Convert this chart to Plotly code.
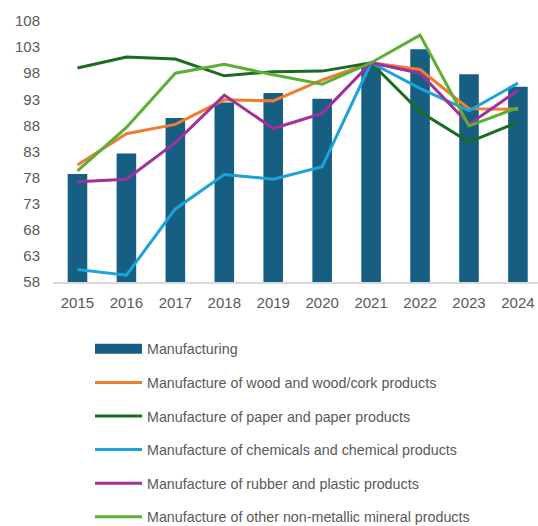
import plotly.graph_objects as go

years = ["2015", "2016", "2017", "2018", "2019", "2020", "2021", "2022", "2023", "2024"]

manufacturing = [78.7, 82.6, 89.4, 92.4, 94.2, 93.1, 100.0, 102.6, 97.8, 95.4]
wood = [80.4, 86.4, 88.2, 92.9, 92.7, 96.7, 100.0, 98.7, 91.2, 91.1]
paper = [99.0, 101.1, 100.7, 97.5, 98.3, 98.4, 100.0, 90.6, 84.8, 88.6]
chemicals = [60.4, 59.3, 72.0, 78.6, 77.7, 80.1, 100.0, 95.1, 90.8, 96.1]
rubber = [77.2, 77.7, 84.7, 93.8, 87.4, 90.3, 100.0, 98.0, 88.2, 94.7]
non_metallic = [79.3, 87.6, 98.0, 99.7, 97.7, 95.9, 100.0, 105.3, 87.9, 91.4]

y_ticks = [58, 63, 68, 73, 78, 83, 88, 93, 98, 103, 108]

bar_color = "#165E82"
line_series = [
    ("Manufacture of wood and wood/cork products", wood, "#ED7D31"),
    ("Manufacture of paper and paper products", paper, "#1B6B25"),
    ("Manufacture of chemicals and chemical products", chemicals, "#1BA3DA"),
    ("Manufacture of rubber and plastic products", rubber, "#A2309C"),
    ("Manufacture of other non-metallic mineral products", non_metallic, "#5BAF35"),
]

fig = go.Figure()
fig.add_trace(go.Bar(
    x=years, y=manufacturing, name="Manufacturing",
    marker=dict(color=bar_color, line=dict(width=0)),
    showlegend=False,
))
# wide block swatch for the bar series in the legend
fig.add_trace(go.Scatter(
    x=[None], y=[None], name="Manufacturing", mode="lines",
    line=dict(color=bar_color, width=10),
    legendgroup="g0",
))
for i, (name, vals, color) in enumerate(line_series):
    fig.add_trace(go.Scatter(
        x=years, y=vals, name=name, mode="lines",
        line=dict(color=color, width=3),
        legendgroup=f"g{i + 1}",
    ))

fig.update_layout(
    width=538, height=526,
    margin=dict(l=53, r=0, t=21, b=244, autoexpand=False),
    plot_bgcolor="white", paper_bgcolor="white",
    bargap=0.6,
    font=dict(family="Liberation Sans, Arial, sans-serif", color="#595959"),
    showlegend=True,
    legend=dict(
        x=(90 - 53) / 485, y=(282 - 333) / 261, xanchor="left", yanchor="top",
        font=dict(size=14.3, color="#595959"),
        tracegroupgap=12, itemwidth=47,
        bgcolor="rgba(0,0,0,0)",
    ),
    xaxis=dict(
        type="category", range=[-0.5, 9.41],
        showline=True, linecolor="#D9D9D9", linewidth=1.5,
        showgrid=False, ticks="", tickfont=dict(size=15, color="#595959"),
        ticklabelstandoff=6,
    ),
    yaxis=dict(
        range=[58, 108], tickvals=y_ticks,
        showgrid=False, zeroline=False, showline=False, ticks="",
        tickfont=dict(size=15, color="#595959"), ticklabelstandoff=12,
    ),
)

fig.write_html("out.html")
